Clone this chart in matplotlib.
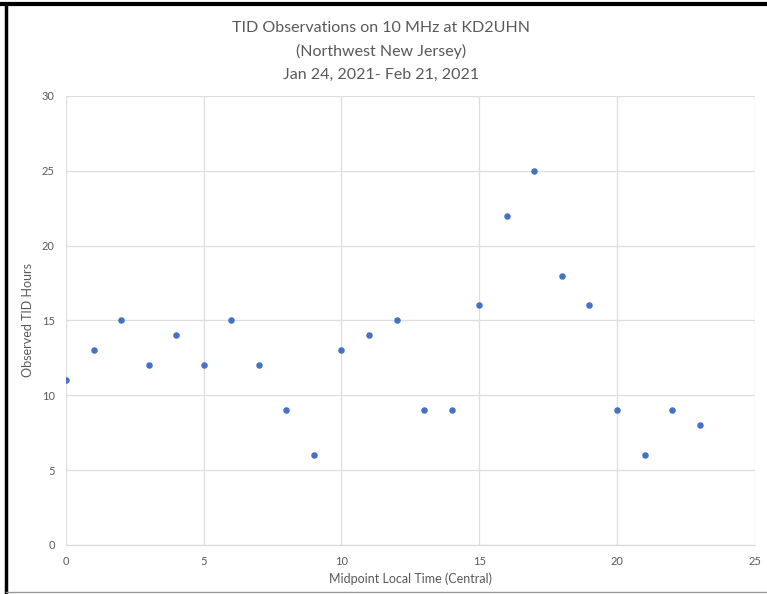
import matplotlib.pyplot as plt
from matplotlib.lines import Line2D

hours = list(range(24))
tid_hours = [11, 13, 15, 12, 14, 12, 15, 12, 9, 6, 13, 14, 15, 9, 9, 16, 22, 25, 18, 16, 9, 6, 9, 8]
x_ticks = [0, 5, 10, 15, 20, 25]
y_ticks = [0, 5, 10, 15, 20, 25, 30]

plt.rcParams['font.family'] = ['Lato', 'DejaVu Sans']
text_color = "#595959"

fig = plt.figure(figsize=(7.67, 5.94), dpi=100)
ax = fig.add_axes([0.086, 0.0825, 0.898, 0.756])

ax.scatter(hours, tid_hours, s=22, color="#4472C4", zorder=3, linewidths=0)

ax.set_xlim(0, 25)
ax.set_ylim(0, 30)
ax.set_xticks(x_ticks)
ax.set_yticks(y_ticks)
ax.grid(True, color="#dedede", linewidth=0.9)
ax.set_axisbelow(True)
for side in ["top", "right", "left"]:
    ax.spines[side].set_visible(False)
ax.spines["bottom"].set_color("#d9d9d9")
ax.tick_params(length=0, labelsize=8, colors=text_color, pad=8)

ax.set_xlabel("Midpoint Local Time (Central)", fontsize=9, color=text_color, labelpad=4)
ax.set_ylabel("Observed TID Hours", fontsize=9, color=text_color, labelpad=6)

fig.text(0.497, 0.953, "TID Observations on 10 MHz at KD2UHN", ha="center", va="center",
         fontsize=11.5, color=text_color)
fig.text(0.497, 0.913, "(Northwest New Jersey)", ha="center", va="center",
         fontsize=11.5, color=text_color)
fig.text(0.497, 0.874, "Jan 24, 2021- Feb 21, 2021", ha="center", va="center",
         fontsize=11.5, color=text_color)

# frame around the screenshot
fig.add_artist(Line2D([0, 1], [0.993, 0.993], color="black", linewidth=3, transform=fig.transFigure))
fig.add_artist(Line2D([0.008, 0.008], [0, 0.993], color="black", linewidth=2.5, transform=fig.transFigure))
fig.add_artist(Line2D([0.008, 1], [0.003, 0.003], color="#999999", linewidth=1, transform=fig.transFigure))

fig.savefig("out.png", dpi=100)
